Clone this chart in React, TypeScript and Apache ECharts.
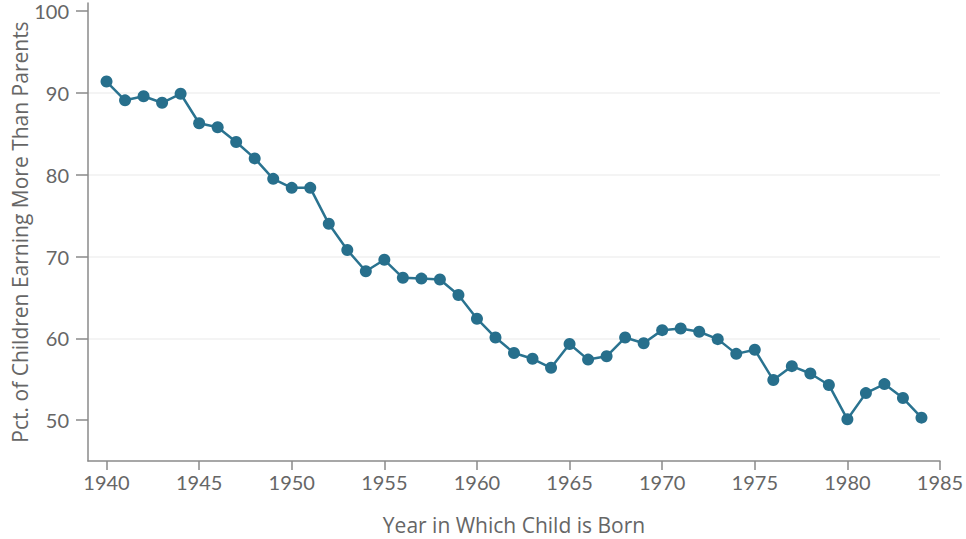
import React, { useEffect, useRef } from "react";
import * as echarts from "echarts";

const years: number[] = [
  1940, 1941, 1942, 1943, 1944, 1945, 1946, 1947, 1948, 1949,
  1950, 1951, 1952, 1953, 1954, 1955, 1956, 1957, 1958, 1959,
  1960, 1961, 1962, 1963, 1964, 1965, 1966, 1967, 1968, 1969,
  1970, 1971, 1972, 1973, 1974, 1975, 1976, 1977, 1978, 1979,
  1980, 1981, 1982, 1983, 1984,
];
const pctEarningMore: number[] = [
  91.4, 89.1, 89.6, 88.8, 89.9, 86.3, 85.8, 84.0, 82.0, 79.5,
  78.4, 78.4, 74.0, 70.8, 68.2, 69.6, 67.4, 67.3, 67.2, 65.3,
  62.4, 60.1, 58.2, 57.5, 56.4, 59.3, 57.4, 57.8, 60.1, 59.4,
  61.0, 61.2, 60.8, 59.9, 58.1, 58.6, 54.9, 56.6, 55.7, 54.3,
  50.1, 53.3, 54.4, 52.7, 50.3,
];
const xTicks: number[] = [1940, 1945, 1950, 1955, 1960, 1965, 1970, 1975, 1980, 1985];
const yTicks: number[] = [50, 60, 70, 80, 90, 100];

const xTitle = "Year in Which Child is Born";
const yTitle = "Pct. of Children Earning More Than Parents";

export default function App() {
  const ref = useRef<HTMLDivElement>(null);
  useEffect(() => {
    if (!ref.current) return;
    const chart = echarts.init(ref.current, undefined, { renderer: "svg" });
    const labelFont = "Lato, 'Open Sans', sans-serif";
    const titleFont = "'Open Sans', Lato, sans-serif";
    const axisColor = "#8a8a8a";
    const textColor = "#666666";
    chart.setOption({
      animation: false,
      backgroundColor: "#ffffff",
      textStyle: { fontFamily: labelFont },
      grid: {
        left: 88,
        right: 26,
        top: 3,
        bottom: 78,
        containLabel: false,
        outerBoundsMode: "none",
      },
      xAxis: {
        type: "value",
        min: 1939,
        max: 1985,
        name: xTitle,
        nameLocation: "middle",
        nameGap: 53,
        nameMoveOverlap: false,
        nameTextStyle: { fontSize: 21, color: textColor, fontFamily: titleFont },
        axisLine: { show: true, lineStyle: { color: axisColor, width: 1.5 } },
        axisTick: { show: true, length: 9, lineStyle: { color: axisColor, width: 1.5 }, customValues: xTicks },
        axisLabel: {
          fontSize: 20,
          color: textColor,
          margin: 11,
          fontFamily: labelFont,
          customValues: xTicks,
          formatter: (v: number) => String(v),
        },
        splitLine: { show: false },
      },
      yAxis: {
        type: "value",
        min: 45,
        max: 101,
        name: yTitle,
        nameLocation: "middle",
        nameGap: 58,
        nameMoveOverlap: false,
        nameRotate: 90,
        nameTextStyle: { fontSize: 21, color: textColor, fontFamily: titleFont },
        axisLine: { show: true, lineStyle: { color: axisColor, width: 1.5 } },
        axisTick: { show: true, length: 12, lineStyle: { color: axisColor, width: 1.5 }, customValues: yTicks },
        axisLabel: {
          fontSize: 20,
          color: textColor,
          margin: 19,
          fontFamily: labelFont,
          customValues: yTicks,
          formatter: (v: number) => String(v),
        },
        splitLine: {
          show: true,
          showMinLine: false,
          showMaxLine: false,
          lineStyle: { color: "#f0f0f0", width: 1.5 },
        },
      },
      series: [
        {
          type: "line",
          data: years.map((y, i) => [y, pctEarningMore[i]]),
          symbol: "circle",
          symbolSize: 12,
          showSymbol: true,
          itemStyle: { color: "#276f8c" },
          lineStyle: { color: "#2a7390", width: 2.5 },
        },
      ],
    });
    return () => chart.dispose();
  }, []);
  return (
    <div
      ref={ref}
      style={{ position: "fixed", left: 0, top: 0, width: 966, height: 539 }}
    />
  );
}
